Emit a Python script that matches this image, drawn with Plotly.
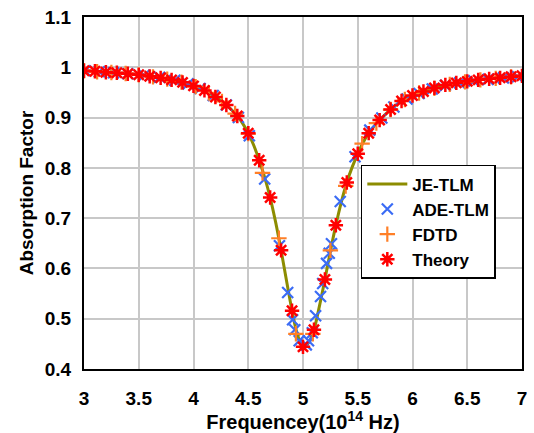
import plotly.graph_objects as go

# Theory (0.1 step)
theory_x = [3.0, 3.1, 3.2, 3.3, 3.4, 3.5, 3.6, 3.7, 3.8, 3.9, 4.0, 4.1, 4.2, 4.3, 4.4, 4.5, 4.6, 4.7, 4.8, 4.9,
            5.0, 5.1, 5.2, 5.3, 5.4, 5.5, 5.6, 5.7, 5.8, 5.9, 6.0, 6.1, 6.2, 6.3, 6.4, 6.5, 6.6, 6.7, 6.8, 6.9, 7.0]
theory_y = [0.993, 0.992, 0.990, 0.989, 0.987, 0.985, 0.982, 0.979, 0.975, 0.970, 0.963, 0.954, 0.941, 0.925, 0.903,
            0.869, 0.815, 0.741, 0.636, 0.516, 0.444, 0.478, 0.578, 0.686, 0.771, 0.828, 0.869, 0.895, 0.916, 0.933,
            0.944, 0.952, 0.959, 0.965, 0.969, 0.972, 0.975, 0.977, 0.979, 0.981, 0.983]

# JE-TLM (continuous line)
je_x = [3.0, 3.05, 3.1, 3.15, 3.2, 3.25, 3.3, 3.35, 3.4, 3.45, 3.5, 3.55, 3.6, 3.65, 3.7, 3.75, 3.8, 3.85, 3.9, 3.95,
        4.0, 4.05, 4.1, 4.15, 4.2, 4.25, 4.3, 4.35, 4.4, 4.45, 4.5, 4.55, 4.6, 4.65, 4.7, 4.75, 4.8, 4.85, 4.9, 4.95,
        5.0, 5.05, 5.1, 5.15, 5.2, 5.25, 5.3, 5.35, 5.4, 5.45, 5.5, 5.55, 5.6, 5.65, 5.7, 5.75, 5.8, 5.85, 5.9, 5.95,
        6.0, 6.05, 6.1, 6.15, 6.2, 6.25, 6.3, 6.35, 6.4, 6.45, 6.5, 6.55, 6.6, 6.65, 6.7, 6.75, 6.8, 6.85, 6.9, 6.95, 7.0]
je_y = [0.993, 0.9925, 0.992, 0.991, 0.990, 0.9895, 0.989, 0.988, 0.987, 0.986, 0.985, 0.9835, 0.982, 0.9805, 0.979,
        0.977, 0.975, 0.9725, 0.970, 0.967, 0.963, 0.959, 0.954, 0.948, 0.941, 0.934, 0.925, 0.915, 0.903, 0.888,
        0.869, 0.845, 0.815, 0.781, 0.741, 0.692, 0.636, 0.575, 0.516, 0.468, 0.443, 0.452, 0.478, 0.525, 0.578,
        0.634, 0.686, 0.732, 0.771, 0.802, 0.828, 0.851, 0.869, 0.883, 0.895, 0.906, 0.916, 0.925, 0.933, 0.939,
        0.944, 0.948, 0.952, 0.956, 0.959, 0.962, 0.965, 0.967, 0.969, 0.9705, 0.972, 0.9735, 0.975, 0.976, 0.977,
        0.978, 0.979, 0.980, 0.981, 0.982, 0.983]

# ADE-TLM
ade_x = [3.01, 3.14, 3.27, 3.40, 3.55, 3.69, 3.83, 3.95, 4.06, 4.18, 4.30, 4.41, 4.51, 4.65, 4.785, 4.86, 4.905,
         4.925, 4.965, 5.03, 5.05, 5.085, 5.115, 5.16, 5.18, 5.215, 5.24, 5.26, 5.34, 5.475, 5.61, 5.72, 5.83, 5.95,
         6.06, 6.18, 6.30, 6.43, 6.56, 6.69, 6.83, 6.96]
ade_y = [0.993, 0.991, 0.989, 0.987, 0.984, 0.980, 0.974, 0.967, 0.958, 0.944, 0.925, 0.900, 0.864, 0.778, 0.645,
         0.552, 0.498, 0.478, 0.456, 0.448, 0.456, 0.472, 0.506, 0.544, 0.570, 0.610, 0.630, 0.649, 0.733, 0.822,
         0.875, 0.899, 0.921, 0.937, 0.948, 0.957, 0.964, 0.969, 0.973, 0.976, 0.979, 0.981]

# FDTD
fdtd_x = [3.0, 3.12, 3.25, 3.38, 3.5, 3.63, 3.76, 3.89, 4.02, 4.14, 4.26, 4.38, 4.5, 4.63, 4.78, 4.935, 5.09, 5.25,
          5.39, 5.54, 5.67, 5.8, 5.93, 6.06, 6.2, 6.34, 6.48, 6.62, 6.76, 6.9]
fdtd_y = [0.993, 0.991, 0.9895, 0.9875, 0.985, 0.981, 0.9765, 0.9705, 0.9615, 0.949, 0.932, 0.908, 0.868, 0.790,
          0.660, 0.470, 0.470, 0.636, 0.764, 0.848, 0.889, 0.916, 0.936, 0.949, 0.958, 0.966, 0.971, 0.975, 0.978,
          0.981]

x_ticks = [3, 3.5, 4, 4.5, 5, 5.5, 6, 6.5, 7]
x_tick_labels = ["3", "3.5", "4", "4.5", "5", "5.5", "6", "6.5", "7"]
y_ticks = [0.4, 0.5, 0.6, 0.7, 0.8, 0.9, 1.0, 1.1]
y_tick_labels = ["0.4", "0.5", "0.6", "0.7", "0.8", "0.9", "1", "1.1"]

FONT = "Liberation Sans, Arial, sans-serif"

fig = go.Figure()
fig.add_trace(go.Scatter(x=je_x, y=je_y, mode="lines", name="JE-TLM",
                         line=dict(color="#8c8c00", width=3, shape="spline")))
fig.add_trace(go.Scatter(x=ade_x, y=ade_y, mode="markers", name="ADE-TLM",
                         marker=dict(symbol="x-thin-open", size=11, color="#3b6cf5",
                                     line=dict(color="#3b6cf5", width=2.2))))
fig.add_trace(go.Scatter(x=fdtd_x, y=fdtd_y, mode="markers", name="FDTD",
                         marker=dict(symbol="cross-thin-open", size=11, color="#ff7f27",
                                     line=dict(color="#ff7f27", width=2.2))))
fig.add_trace(go.Scatter(x=theory_x, y=theory_y, mode="markers", name="Theory",
                         marker=dict(symbol="asterisk-open", size=12, color="#ff0000",
                                     line=dict(color="#ff0000", width=2.5))))

fig.update_layout(
    width=534, height=433,
    margin=dict(l=84, r=7, t=17, b=64),
    paper_bgcolor="white", plot_bgcolor="white",
    font=dict(family=FONT, color="black"),
    showlegend=True,
    legend=dict(x=0.632, y=0.58, xanchor="left", yanchor="top",
                bgcolor="white", bordercolor="black", borderwidth=1.5,
                font=dict(family=FONT, size=17, color="black", weight="bold"),
                tracegroupgap=0, itemwidth=40),
    xaxis=dict(range=[3, 7], tickvals=x_ticks, ticktext=x_tick_labels,
               showgrid=True, gridcolor="#c8c8c8", gridwidth=1.5,
               showline=True, linecolor="black", linewidth=2, mirror=True,
               ticks="", ticklabelstandoff=11, zeroline=False,
               tickfont=dict(family=FONT, size=19, color="black", weight="bold"),
               title=dict(text="Frequencey(10<sup>14</sup> Hz)", standoff=0,
                          font=dict(family=FONT, size=20, color="black", weight="bold"))),
    yaxis=dict(range=[0.4, 1.1], tickvals=y_ticks, ticktext=y_tick_labels,
               showgrid=True, gridcolor="#c8c8c8", gridwidth=1.5,
               showline=True, linecolor="black", linewidth=2, mirror=True,
               ticks="", ticklabelstandoff=7, zeroline=False,
               tickfont=dict(family=FONT, size=19, color="black", weight="bold"),
               title=dict(text="Absorption Factor", standoff=6,
                          font=dict(family=FONT, size=19, color="black", weight="bold"))),
)

fig.write_html("out.html")
